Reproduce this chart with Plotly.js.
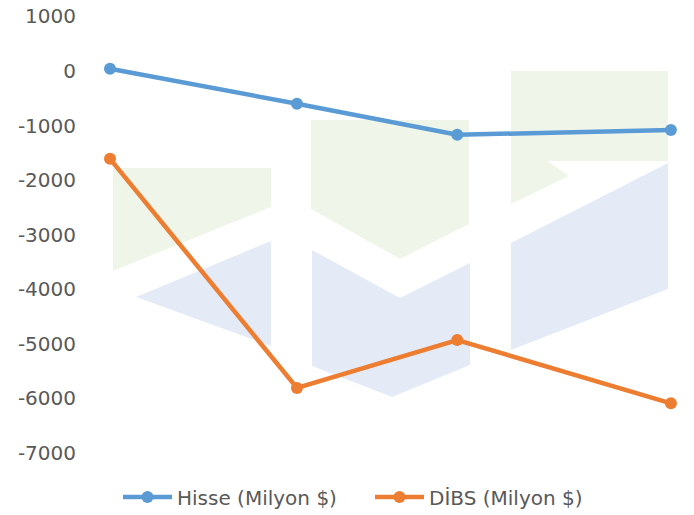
<!DOCTYPE html>
<html>
<head>
<meta charset="utf-8">
<script src="https://cdn.plot.ly/plotly-3.0.1.min.js"></script>
<style>html,body{margin:0;padding:0;background:#fff}#chart{width:694px;height:515px}</style>
</head>
<body>
<div id="chart"></div>
<script>
// Data (x = period position in days, axis labels not shown in the original)
const periods = [0, 7, 13, 21];
const seriesNames = ["Hisse (Milyon $)", "DİBS (Milyon $)"];
const hisse = [40, -600, -1170, -1080];
const dibs = [-1610, -5810, -4930, -6090];
const yTicks = [1000, 0, -1000, -2000, -3000, -4000, -5000, -6000, -7000];

const W = 694, H = 515;
const M = {l: 80, r: 10, t: 5, b: 45, autoexpand: false};
const pw = W - M.l - M.r, ph = H - M.t - M.b;
function toPaper(pts) {
  return 'M' + pts.map(p => ((p[0] - M.l) / pw).toFixed(4) + ',' + ((H - M.b - p[1]) / ph).toFixed(4)).join('L') + 'Z';
}
// watermark decoration (pixel outlines)
const green = [
  [[113,168],[271,168],[271,207],[113,271]],
  [[311,120],[469,120],[469,224],[400,259],[311,209]],
  [[511,71],[668,71],[668,161],[547,161],[569,176],[511,204]]
];
const blue = [
  [[136,297],[271,241],[271,346]],
  [[312,250],[400,298],[470,263],[470,365],[392,397],[312,366]],
  [[511,243],[668,163],[668,289],[511,350]]
];
const shapes = [];
green.forEach(g => shapes.push({type:'path', xref:'paper', yref:'paper', path: toPaper(g), fillcolor:'#EFF6E9', line:{width:0}, layer:'below'}));
blue.forEach(b => shapes.push({type:'path', xref:'paper', yref:'paper', path: toPaper(b), fillcolor:'#E5EBF6', line:{width:0}, layer:'below'}));

const tickFont = {family: 'DejaVu Sans, sans-serif', size: 20, color: '#595959'};
const legFont = {family: 'DejaVu Sans, sans-serif', size: 20, color: '#595959'};
const traces = [
  {x: periods, y: hisse, name: seriesNames[0], type: 'scatter', mode: 'lines+markers',
   line: {color: '#5B9BD5', width: 4.5}, marker: {color: '#5B9BD5', size: 12}},
  {x: periods, y: dibs, name: seriesNames[1], type: 'scatter', mode: 'lines+markers',
   line: {color: '#ED7D31', width: 4.5}, marker: {color: '#ED7D31', size: 12}}
];
const layout = {
  width: W, height: H,
  margin: M,
  paper_bgcolor: '#fff', plot_bgcolor: 'rgba(0,0,0,0)',
  font: legFont,
  showlegend: true,
  legend: {orientation: 'h', x: (118 - M.l) / pw, xanchor: 'left', y: -0.058, yanchor: 'middle', font: legFont,
           itemwidth: 49, entrywidth: 188, entrywidthmode: 'pixels'},
  xaxis: {range: [-1.123, 21.49], showgrid: false, zeroline: false, showticklabels: false, showline: false, ticks: '', automargin: false},
  yaxis: {range: [-7312, 1209], tickvals: yTicks, ticktext: yTicks.map(String), showgrid: false, zeroline: false, showline: false, ticks: '', tickfont: tickFont, automargin: false, ticklabelstandoff: 3},
  shapes: shapes
};
Plotly.newPlot('chart', traces, layout, {displayModeBar: false, staticPlot: true});
</script>
</body>
</html>
